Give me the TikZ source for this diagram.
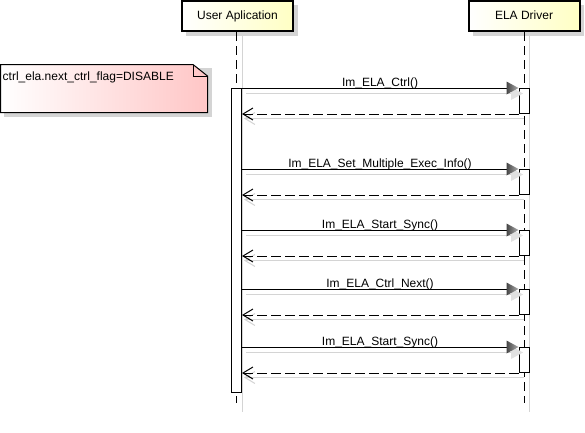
\documentclass[tikz,border=0pt]{standalone}
\usepackage{fontspec}
\setmainfont{Liberation Sans}
\usetikzlibrary{arrows.meta}
\definecolor{shad}{RGB}{212,212,212}
\definecolor{shadlight}{RGB}{225,225,225}
\definecolor{notepink}{RGB}{255,198,198}
\definecolor{boxyel}{RGB}{255,255,196}
\definecolor{tipdark}{RGB}{70,70,70}
\definecolor{tiplight}{RGB}{175,175,175}
\begin{document}
\begin{tikzpicture}[x=1pt,y=-1pt,
  font=\fontsize{12}{14}\selectfont,
  actor/.style={draw, line width=2pt, inner sep=0pt, minimum width=111pt,
    minimum height=30pt, text height=8.6pt, text depth=2.5pt,
    left color=white, right color=boxyel},
  lifeline/.style={line width=1pt, dash pattern=on 9pt off 5pt},
  shadline/.style={shad, line width=1pt},
  bar/.style={draw, fill=white, line width=1pt, inner sep=0pt, minimum width=10pt},
  msg/.style={line width=1pt},
  ret/.style={line width=1pt, dash pattern=on 10pt off 4pt,
    -{Straight Barb[length=10pt,width=12pt,line width=1pt]}},
  retshad/.style={shadline,
    -{Straight Barb[length=10pt,width=12pt,line width=1pt]}},
  lbl/.style={anchor=base, inner sep=0pt}
]
\useasboundingbox (0,0) rectangle (585,432);

% lifeline shadows
\draw[shadline] (242,35) -- (242,412);
\draw[shadline] (529,35) -- (529,412);

% box shadows
\fill[shad] (186,5) rectangle (298,36);
\fill[shad] (473,5) rectangle (584,36);

% actor boxes
\node[actor] (user) at (237.5,16) {User Aplication};
\node[actor] (ela) at (524,16) {ELA Driver};

% lifelines
\coordinate (userend) at (236.5,403);
\coordinate (elaend) at (524,403);
\draw[lifeline] (user.south -| userend) -- (userend);
\draw[lifeline] (ela.south) -- (elaend);

% note
\fill[shad] (4,68) rectangle (212,117);
\shade[left color=white, right color=notepink] (0.5,64.5) -- (193,64.5) -- (207.5,76) -- (207.5,112.5) -- (0.5,112.5) -- cycle;
\draw[line width=1pt] (0.5,64.5) -- (193,64.5) -- (207.5,76) -- (207.5,112.5) -- (0.5,112.5) -- cycle;
\draw[line width=1pt] (193,64.5) -- (193,76) -- (207.5,76);
\node[anchor=base west, inner sep=0pt] (note) at (2.5,80) {ctrl\_ela.next\_ctrl\_flag=DISABLE};

% user activation bar
\node[bar, minimum height=304pt] (ub) at (236.5,240) {};

% messages
\foreach \i/\y/\r/\t in {1/88.5/113.5/{Im\_ELA\_Ctrl()},
                          2/169.5/194.5/{Im\_ELA\_Set\_Multiple\_Exec\_Info()},
                          3/230.5/255.5/{Im\_ELA\_Start\_Sync()},
                          4/289.5/314.5/{Im\_ELA\_Ctrl\_Next()},
                          5/347.5/372.5/{Im\_ELA\_Start\_Sync()}} {
  \pgfmathsetmacro{\mid}{(\y+\r)/2}
  \pgfmathsetmacro{\len}{\r-\y}
  \node[bar, minimum height=\len pt] (eb\i) at (524,\mid) {};
  % shadows
  \draw[shadline] (246,\y+5) -- (512,\y+5);
  \fill[shadlight] (523,\y+5) -- (511,\y-1.5) -- (511,\y+11.5) -- cycle;
  \draw[retshad] (524,\r+5) -- (244,\r+5);
  % call
  \draw[msg] (ub.east |- eb\i.north west) -- ([xshift=-10pt]eb\i.north west);
  \shade[left color=tipdark, right color=tiplight]
    (eb\i.north west) -- ++(-12,-6.5) -- ++(0,13) -- cycle;
  \node[lbl] (lbl\i) at (380,\y-2.5) {\t};
  % return
  \draw[ret] (eb\i.south west) -- (ub.east |- eb\i.south west);
}
\end{tikzpicture}
\end{document}
